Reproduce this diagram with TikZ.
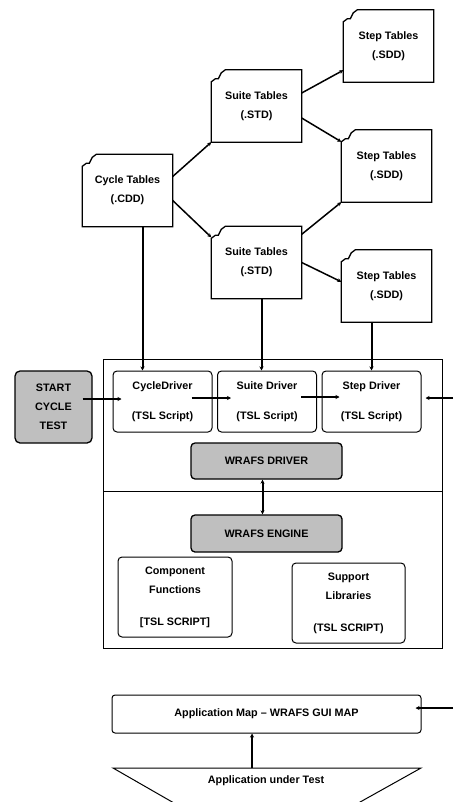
\documentclass[tikz,border=0pt]{standalone}
\usepackage{fontspec}
\setmainfont{Liberation Sans}
\usetikzlibrary{arrows.meta}

\definecolor{boxGray}{rgb}{0.75,0.75,0.75}

\tikzset{
  txt/.style={font=\bfseries\fontsize{10.8}{19}\selectfont, align=center, inner sep=0pt},
  tbl/.style={txt, minimum width=90pt, minimum height=72pt},
  drv/.style={txt, draw, rounded corners=4pt, line width=1pt, minimum width=99pt, minimum height=61pt},
  grybox/.style={txt, draw, fill=boxGray, rounded corners=4pt, line width=1.3pt},
  conn/.style={line width=1.5pt, -{Stealth[length=4pt,width=4pt]}},
  vconn/.style={conn, line width=2pt},
}

\begin{document}
\begin{tikzpicture}[x=1pt,y=-1pt]
\path[use as bounding box,fill=white] (0,0) rectangle (453,802);
\begin{scope}
\clip (0,0) rectangle (453,802);

% table files
\node[tbl] (ct)  at (127.5,190.5) {Cycle Tables\\(.CDD)};
\node[tbl] (sta) at (256.5,106)   {Suite Tables\\(.STD)};
\node[tbl] (stb) at (256.5,262.5) {Suite Tables\\(.STD)};
\node[tbl] (spa) at (388.5,46)    {Step Tables\\(.SDD)};
\node[tbl] (spb) at (386.5,166)   {Step Tables\\(.SDD)};
\node[tbl] (spc) at (386.5,286)   {Step Tables\\(.SDD)};

\foreach \n in {ct,sta,stb,spa,spb,spc}
  \draw[line width=1.3pt] ([yshift=-12pt]\n.north west) -- ++(4,-3) -- ++(3,0)
    -- ++(3,-6) -- ++(4,-3) -- (\n.north east) -- (\n.south east) -- (\n.south west) -- cycle;

\draw[conn] ([yshift=14pt]ct.east) -- (sta.south west);
\draw[conn] ([yshift=-10pt]ct.east) -- ([yshift=-11pt]stb.north west);
\draw[conn] ([yshift=13pt]sta.east) -- ([yshift=12pt]spa.south west);
\draw[conn] ([yshift=-12pt]sta.east) -- ([yshift=-12pt]spb.north west);
\draw[conn] ([yshift=-8pt]stb.north east) -- (spb.south west);
\draw[conn] (stb.east) -- ([yshift=-32pt]spc.north west);

% framework
\node[draw, line width=1pt, minimum width=339pt, minimum height=289pt, inner sep=0pt] (fw) at (272.5,503.5) {};
\coordinate (divl) at (103,491);
\draw[line width=1pt] (divl) -- (divl -| fw.east);

\node[grybox, minimum width=77pt, minimum height=72pt, rounded corners=5pt] (start) at (53.5,407) {START\\CYCLE\\TEST};
\node[drv] (cd)  at (162.5,401.5) {CycleDriver\\[11pt](TSL Script)};
\node[drv] (sd)  at (267,401.5)   {Suite Driver\\[11pt](TSL Script)};
\node[drv] (spd) at (371.5,401.5) {Step Driver\\[11pt](TSL Script)};
\node[grybox, minimum width=151pt, minimum height=36pt] (wd) at (266.5,461)   {WRAFS DRIVER};
\node[grybox, minimum width=151pt, minimum height=37pt] (we) at (266.5,533.5) {WRAFS ENGINE};
\node[drv, minimum width=114pt, minimum height=80pt] (cf) at (175,597)   {Component\\Functions\\[13pt][TSL SCRIPT]};
\node[drv, minimum width=113pt, minimum height=80pt] (sl) at (348.5,603) {Support\\Libraries\\[13pt](TSL SCRIPT)};

\draw[vconn] ([xshift=15pt]ct.south) -- ([xshift=15pt]ct.south |- cd.north);
\draw[vconn] ([xshift=5pt]stb.south) -- ([xshift=5pt]stb.south |- sd.north);
\draw[vconn] ([xshift=-15pt]spc.south) -- ([xshift=-15pt]spc.south |- spd.north);

\draw[conn] ([xshift=-10pt,yshift=8pt]start.east) -- ([xshift=9pt,yshift=2.5pt]cd.west);
\draw[conn] ([xshift=-21pt,yshift=3.5pt]cd.east) -- ([xshift=14pt,yshift=3.5pt]sd.west);
\draw[conn] ([xshift=-16pt,yshift=4.5pt]sd.east) -- ([xshift=18pt,yshift=4.5pt]spd.west);
\coordinate (inr) at (453,398);
\draw[conn] (inr) -- ([xshift=4pt,yshift=3.5pt]spd.east);

\draw[vconn, {Stealth[length=4pt,width=4pt]}-{Stealth[length=4pt,width=4pt]}]
  ([xshift=-4pt]wd.south) -- ([xshift=-4pt]we.north);

% application side
\node[drv, minimum width=309pt, minimum height=38pt, rounded corners=3pt] (am) at (266.5,714) {Application Map -- WRAFS GUI MAP};
\coordinate (inam) at (453,708);
\draw[conn] (inam) -- ([xshift=-6pt,yshift=6pt]am.east);

\draw[line width=1pt] (113,768) -- (421,768) -- (310,830) -- (221,830) -- cycle;
\node[txt] (aut) at (266,781) {Application under Test};
\coordinate (autop) at (252,768);
\draw[vconn] (autop) -- (autop |- am.south);
\end{scope}
\end{tikzpicture}
\end{document}
